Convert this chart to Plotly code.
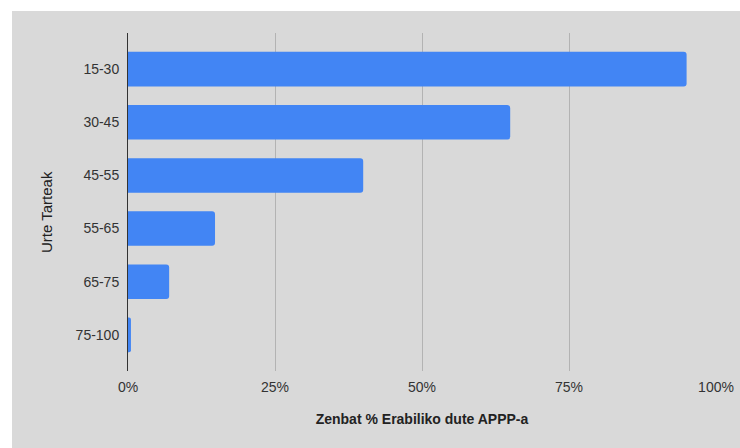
import plotly.graph_objects as go

categories = ["15-30", "30-45", "45-55", "55-65", "65-75", "75-100"]
values = [0.95, 0.65, 0.40, 0.148, 0.07, 0.005]
x_ticks = [0, 0.25, 0.5, 0.75, 1.0]
x_tick_labels = ["0%", "25%", "50%", "75%", "100%"]

W, H = 740, 448
L, R, T, B = 128, 24, 33, 77
pw, ph = W - L - R, H - T - B

def px2x(p):
    return (p - L) / pw

def py2y(p):
    return (H - B - p) / ph

FONT = "Liberation Sans, Arial, sans-serif"

fig = go.Figure(go.Bar(
    x=values, y=categories, orientation="h",
    marker=dict(color="#4285f4", line=dict(width=0)),
    width=0.65,
))

fig.add_shape(type="rect", xref="paper", yref="paper",
              x0=px2x(12), x1=px2x(745), y0=py2y(455), y1=py2y(11),
              fillcolor="#d9d9d9", line=dict(width=0), layer="below")

fig.add_annotation(text="Urte Tarteak", textangle=-90,
                   xref="paper", yref="paper", x=px2x(46.5), y=py2y(212.5),
                   xanchor="center", yanchor="middle", showarrow=False,
                   font=dict(family=FONT, size=15, color="#222222"))

fig.update_layout(
    width=W, height=H, autosize=False,
    margin=dict(l=L, r=R, t=T, b=B, pad=0, autoexpand=False),
    paper_bgcolor="white", plot_bgcolor="#d9d9d9",
    font=dict(family=FONT, size=14, color="#333333"),
    showlegend=False,
    barcornerradius=3,
    xaxis=dict(
        range=[0, 1], tickvals=x_ticks, ticktext=x_tick_labels,
        showgrid=True, gridcolor="#b3b3b3", gridwidth=1,
        zeroline=False, showline=False, ticks="", automargin=False,
        ticklabelstandoff=6,
        tickfont=dict(size=14, color="#333333"),
        title=dict(text="<b>Zenbat % Erabiliko dute APPP-a</b>",
                   font=dict(size=14, color="#222222"), standoff=20),
    ),
    yaxis=dict(
        autorange=False, range=[5.68, -0.68],
        showgrid=False, zeroline=False, automargin=False,
        showline=True, linecolor="#333333", linewidth=1,
        ticks="", ticklabelstandoff=5,
        tickfont=dict(size=14, color="#333333"),
    ),
)

fig.write_html("out.html",
               config={"displayModeBar": False},
               post_script="document.body.style.margin='0';document.body.style.overflow='hidden';")
